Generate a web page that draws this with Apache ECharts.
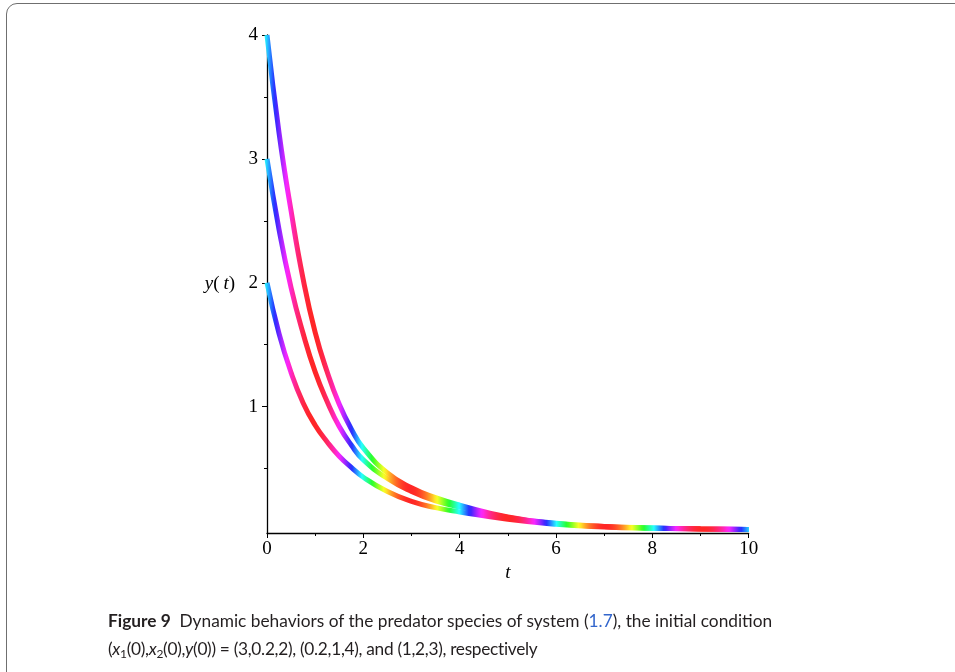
<!DOCTYPE html>
<html>
<head>
<meta charset="utf-8">
<script src="https://cdn.jsdelivr.net/npm/echarts@6/dist/echarts.min.js"></script>
<style>
  html, body { margin:0; padding:0; background:#fff; }
  #wrap { position:relative; width:955px; height:672px; overflow:hidden; background:#fff; }
  #frame { position:absolute; left:6px; top:3px; width:970px; height:680px; border:1.5px solid #6f6f6f; border-radius:11px; box-sizing:border-box; }
  #chart { position:absolute; left:0; top:0; width:955px; height:672px; }
  #cap { position:absolute; left:108px; top:607px; font-family:Lato, "Noto Sans", sans-serif; font-size:17.3px; line-height:28px; color:#231f20; white-space:nowrap; }
  #cap b { font-weight:700; }
  #cap sub { font-size:12px; vertical-align:-3px; line-height:0; }
  #cap .lnk { color:#3366cc; }
  #cap .l2 { letter-spacing:-0.3px; }
</style>
</head>
<body>
<div id="wrap">
  <div id="frame"></div>
  <div id="chart"></div>
  <div id="cap"><b>Figure 9</b>&nbsp; Dynamic behaviors of the predator species of system (<span class="lnk">1.7</span>), the initial condition<br><span class="l2">(<i>x</i><sub>1</sub>(0),<i>x</i><sub>2</sub>(0),<i>y</i>(0)) = (3,0.2,2), (0.2,1,4), and (1,2,3), respectively</span></div>
</div>
<script>
// time samples (t)
const tValues = [0, 0.25, 0.5, 0.75, 1, 1.25, 1.5, 1.75, 2, 2.5, 3, 3.5, 4, 5, 6, 7, 8, 9, 10];
// y(t) for initial condition (0.2, 1, 4)
const yFromFour = [4.00, 3.21, 2.58, 2.03, 1.60, 1.28, 1.02, 0.82, 0.665, 0.465, 0.345, 0.265, 0.205, 0.11, 0.058, 0.033, 0.021, 0.014, 0.009];
// y(t) for initial condition (1, 2, 3)
const yFromThree = [3.00, 2.43, 1.96, 1.59, 1.28, 1.04, 0.84, 0.69, 0.57, 0.42, 0.315, 0.24, 0.19, 0.105, 0.056, 0.032, 0.020, 0.013, 0.009];
// y(t) for initial condition (3, 0.2, 2)
const yFromTwo = [2.00, 1.59, 1.275, 1.03, 0.85, 0.715, 0.60, 0.51, 0.43, 0.315, 0.235, 0.185, 0.15, 0.09, 0.05, 0.029, 0.018, 0.012, 0.008];

const xTickInterval = 2;
const yLabelValues = [1, 2, 3, 4];
const yMinorValues = [0.5, 1.5, 2.5, 3.5];

function hsv(h, s, v) {
  h = ((h % 360) + 360) % 360;
  const c = v * s, x = c * (1 - Math.abs((h / 60) % 2 - 1)), m = v - c;
  let r, g, b;
  if (h < 60) { r = c; g = x; b = 0; }
  else if (h < 120) { r = x; g = c; b = 0; }
  else if (h < 180) { r = 0; g = c; b = x; }
  else if (h < 240) { r = 0; g = x; b = c; }
  else if (h < 300) { r = x; g = 0; b = c; }
  else { r = c; g = 0; b = x; }
  return 'rgb(' + Math.round((r + m) * 255) + ',' + Math.round((g + m) * 255) + ',' + Math.round((b + m) * 255) + ')';
}
// colour shading along t (hue swings around cyan)
function shading() {
  const stops = [];
  const n = 200;
  for (let k = 0; k <= n; k++) {
    const t = 10 * k / n;
    const hue = 180 + 180 * Math.sin(Math.PI * t / 2);
    stops.push({ offset: k / n, color: hsv(hue >= 360 ? 359.9 : hue, 0.85, 1) });
  }
  return new echarts.graphic.LinearGradient(0, 0, 1, 0, stops);
}

function mk(ys) {
  return {
    type: 'line',
    data: tValues.map((t, i) => [t, ys[i]]),
    smooth: 0.5,
    showSymbol: false,
    silent: true,
    clip: false,
    lineStyle: { width: 5, color: shading(), cap: 'butt' }
  };
}

const serif = '"Liberation Serif", "DejaVu Serif", serif';
const chart = echarts.init(document.getElementById('chart'), null, { renderer: 'canvas' });
chart.setOption({
  animation: false,
  backgroundColor: 'transparent',
  grid: { left: 267, right: 206.3, top: 35, bottom: 139, containLabel: false },
  xAxis: {
    type: 'value', min: 0, max: 10, interval: xTickInterval,
    axisLine: { onZero: false, lineStyle: { color: '#000', width: 1.3 } },
    axisTick: { length: 5, lineStyle: { color: '#000', width: 1 } },
    minorTick: { show: true, splitNumber: 2, length: 3, lineStyle: { color: '#000', width: 1 } },
    splitLine: { show: false }, minorSplitLine: { show: false },
    axisLabel: { fontFamily: serif, fontSize: 19, color: '#000', margin: 7 },
    name: 't', nameLocation: 'middle', nameGap: 30,
    nameTextStyle: { fontFamily: serif, fontStyle: 'italic', fontSize: 19, color: '#000' }
  },
  yAxis: [{
    type: 'value', min: -0.02, max: 4, position: 'left',
    axisLine: { show: true, onZero: false, lineStyle: { color: '#000', width: 1.3 } },
    axisTick: { show: true, customValues: yLabelValues, length: 5, lineStyle: { color: '#000', width: 1 } },
    axisLabel: { customValues: yLabelValues, fontFamily: serif, fontSize: 19, color: '#000', margin: 9 },
    splitLine: { show: false },
    name: '{i|y}(\u2009{i|t})', nameLocation: 'middle', nameRotate: 0, nameGap: 32,
    nameTextStyle: {
      fontFamily: serif, fontSize: 19, color: '#000', align: 'right',
      rich: { i: { fontFamily: serif, fontSize: 19, fontStyle: 'italic', color: '#000' } }
    }
  }, {
    type: 'value', min: -0.02, max: 4, position: 'left',
    axisLine: { show: false },
    axisTick: { show: true, customValues: yMinorValues, length: 3, lineStyle: { color: '#000', width: 1 } },
    axisLabel: { show: false },
    splitLine: { show: false }
  }],
  series: [mk(yFromTwo), mk(yFromThree), mk(yFromFour)]
});
</script>
</body>
</html>
